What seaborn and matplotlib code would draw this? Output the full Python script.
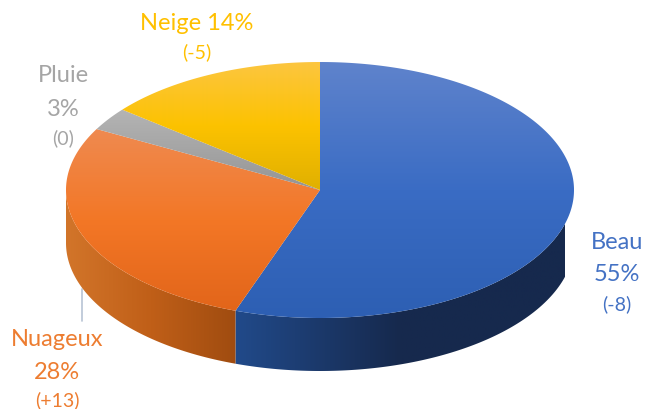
import numpy as np
import seaborn as sns
import matplotlib.pyplot as plt
from matplotlib.patches import Polygon

categories = ["Beau", "Nuageux", "Pluie", "Neige"]
shares = [55.4, 27.5, 2.9, 14.2]  # slices as drawn, labels below are rounded
percents = ["55%", "28%", "3%", "14%"]
changes = ["(-8)", "(+13)", "(0)", "(-5)"]
label_colors = ["#4472c4", "#ed7d31", "#a5a5a5", "#ffc000"]
top_colors = [["#5f83cc", "#3a6cc4", "#2d5fb3"],
              ["#ef8a50", "#f37726", "#e2651a"],
              ["#b4b4b4", "#a5a5a5", "#949494"],
              ["#fcc640", "#fcc200", "#e0b000"]]
side_colors = [["#214a8a", "#16294d", "#16294d"],
               ["#d2752a", "#c05f18", "#a04c10"]]

sns.set_theme(style="white")
plt.rcParams['font.family'] = ['Lato', 'DejaVu Sans']

fig = plt.figure(figsize=(6.46, 4.10), dpi=100)
ax = fig.add_axes([0, 0, 1, 1])
ax.set_xlim(0, 646)
ax.set_ylim(410, 0)
ax.axis("off")

# pie geometry in pixels
cx, cy, rx, ry, depth = 320, 191, 254, 128, 53


def ell(t):
    return cx + rx * np.sin(t), cy - ry * np.cos(t)


def fill_gradient(pts, cmap, vertical, lo, hi, z):
    # image gradient clipped to the slice outline
    n = 256
    g = np.linspace(0, 1, n)
    g = g.reshape(-1, 1) if vertical else g.reshape(1, -1)
    extent = (cx - rx - 2, cx + rx + 2, hi, lo) if vertical else (lo, hi, cy + ry + depth + 2, cy - ry - 2)
    im = ax.imshow(g, cmap=cmap, extent=extent, aspect="auto", zorder=z, origin="upper")
    patch = Polygon(pts, closed=True, transform=ax.transData, facecolor="none", edgecolor="none")
    ax.add_patch(patch)
    im.set_clip_path(patch)


edges = np.cumsum([0] + shares) / sum(shares) * 2 * np.pi

# side wall: only the front half of the rim shows
for i, sc in enumerate(side_colors):
    a = max(edges[i], np.pi / 2)
    b = min(edges[i + 1], 3 * np.pi / 2)
    t = np.linspace(a, b, 200)
    x, y = ell(t)
    pts = np.r_[np.c_[x, y], np.c_[x[::-1], y[::-1] + depth]]
    cmap = sns.blend_palette(sc, as_cmap=True)
    if i == 0:
        fill_gradient(pts, cmap, False, x.min(), x.min() + 330, 2)
    else:
        fill_gradient(pts, cmap, False, x.min(), x.max(), 2)

# top face
for i, tc in enumerate(top_colors):
    t = np.linspace(edges[i], edges[i + 1], 300)
    x, y = ell(t)
    pts = np.r_[[[cx, cy]], np.c_[x, y]]
    cmap = sns.blend_palette(tc, as_cmap=True)
    fill_gradient(pts, cmap, True, min(y.min(), cy), max(y.max(), cy), 3)

ax.set_xlim(0, 646)
ax.set_ylim(410, 0)

# leader line of the Nuageux label
ax.plot([82, 82], [290, 322], color="#b8c4d4", lw=1.2, zorder=1)

big, small = 17, 14
ax.text(617, 243, categories[0], color=label_colors[0], fontsize=big, ha="center", va="center")
ax.text(617, 275, percents[0], color=label_colors[0], fontsize=big, ha="center", va="center")
ax.text(617, 304, changes[0], color=label_colors[0], fontsize=small, ha="center", va="center")

ax.text(57, 340, categories[1], color=label_colors[1], fontsize=big, ha="center", va="center")
ax.text(57, 373, percents[1], color=label_colors[1], fontsize=big, ha="center", va="center")
ax.text(57, 400, changes[1], color=label_colors[1], fontsize=small, ha="center", va="center")

ax.text(63, 75, categories[2], color=label_colors[2], fontsize=big, ha="center", va="center")
ax.text(63, 109, percents[2], color=label_colors[2], fontsize=big, ha="center", va="center")
ax.text(63, 138, changes[2], color=label_colors[2], fontsize=small, ha="center", va="center")

ax.text(197, 24, categories[3] + " " + percents[3], color=label_colors[3], fontsize=big, ha="center", va="center")
ax.text(197, 52, changes[3], color=label_colors[3], fontsize=small, ha="center", va="center")

fig.savefig("out.png", dpi=100)
